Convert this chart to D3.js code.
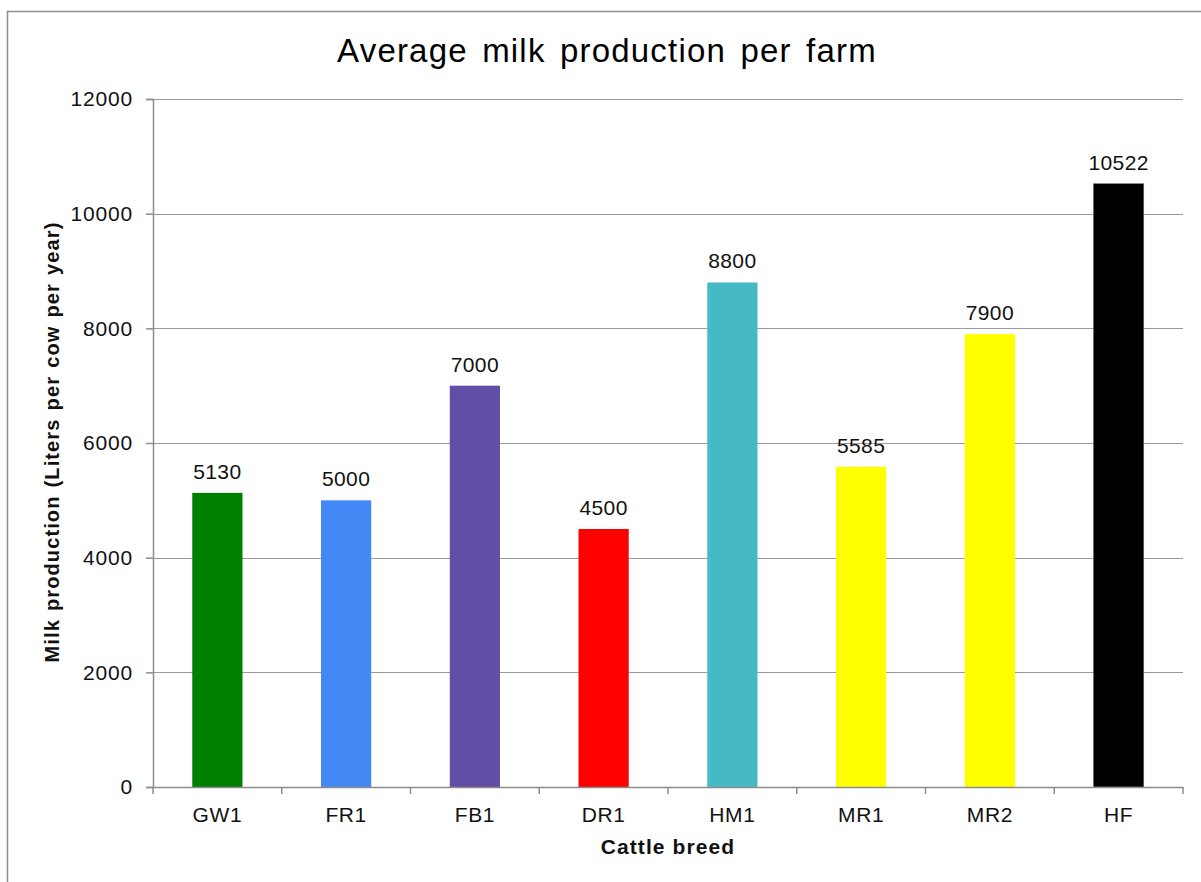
<!DOCTYPE html>
<html>
<head>
<meta charset="utf-8">
<script src="https://cdn.jsdelivr.net/npm/d3@7"></script>
<style>
  html, body { margin: 0; padding: 0; background: #fff; }
  svg { display: block; font-family: "Liberation Sans", Arial, sans-serif; }
</style>
</head>
<body>
<svg id="chart" width="1201" height="882"></svg>
<script>
// Cattle breeds and their average yearly milk production per cow
const breeds = ["GW1", "FR1", "FB1", "DR1", "HM1", "MR1", "MR2", "HF"];
const production = [5130, 5000, 7000, 4500, 8800, 5585, 7900, 10522];
const barColors = ["#008000", "#4488f5", "#624ea6", "#ff0000", "#45bac4", "#ffff00", "#ffff00", "#000000"];
const yTicks = [0, 2000, 4000, 6000, 8000, 10000, 12000];

const chartTitle = "Average milk production per farm";
const xTitle = "Cattle breed";
const yTitle = "Milk production (Liters per cow per year)";

const svg = d3.select("#chart");
const W = 1201, H = 882;
const plot = { left: 153, right: 1183, top: 99, bottom: 787 };
const FONT = "Liberation Sans, Arial, sans-serif";

// outer chart frame
svg.append("rect")
  .attr("x", 7.5).attr("y", 11.5)
  .attr("width", W + 10).attr("height", H + 10)
  .attr("fill", "#fff").attr("stroke", "#8c8c8c").attr("stroke-width", 1.5);

const x = d3.scaleBand()
  .domain(breeds)
  .range([plot.left, plot.right])
  .paddingInner(0.61)
  .paddingOuter(0.305);

const xOuter = d3.scaleBand().domain(breeds).range([plot.left, plot.right]);

const y = d3.scaleLinear().domain([0, 12000]).range([plot.bottom, plot.top]);

// horizontal gridlines
svg.append("g")
  .selectAll("line")
  .data(yTicks.filter(d => d > 0))
  .join("line")
  .attr("x1", plot.left).attr("x2", plot.right)
  .attr("y1", d => Math.round(y(d)) + 0.5).attr("y2", d => Math.round(y(d)) + 0.5)
  .attr("stroke", "#9a9a9a").attr("stroke-width", 1.2);

// bars
const data = breeds.map((b, i) => ({ breed: b, value: production[i], color: barColors[i] }));
svg.append("g")
  .selectAll("rect")
  .data(data)
  .join("rect")
  .attr("x", d => x(d.breed))
  .attr("width", x.bandwidth())
  .attr("y", d => y(d.value))
  .attr("height", d => y(0) - y(d.value))
  .attr("fill", d => d.color)
  .attr("stroke", d => d.breed === "HF" ? "#666" : "none")
  .attr("stroke-width", 0.6);

// value labels above bars
svg.append("g")
  .selectAll("text")
  .data(data)
  .join("text")
  .attr("x", d => x(d.breed) + x.bandwidth() / 2)
  .attr("y", d => y(d.value) - 14)
  .attr("text-anchor", "middle")
  .attr("font-size", 21)
  .attr("letter-spacing", 0.4)
  .attr("fill", "#111")
  .text(d => d.value);

// y axis
const yAxis = d3.axisLeft(y).tickValues(yTicks).tickSize(7).tickPadding(13).tickFormat(d3.format("d"));
const gy = svg.append("g").attr("transform", `translate(${plot.left},0)`).call(yAxis);
gy.select(".domain").attr("stroke", "#8c8c8c").attr("stroke-width", 1.5);
gy.selectAll(".tick line").attr("stroke", "#8c8c8c").attr("stroke-width", 1.5);
gy.selectAll(".tick text").attr("font-size", 21).attr("letter-spacing", 0.8)
  .attr("fill", "#111").attr("font-family", FONT);

// x axis with ticks at band boundaries
const xAxis = d3.axisBottom(xOuter).tickSize(0).tickPadding(20);
const gx = svg.append("g").attr("transform", `translate(0,${plot.bottom})`).call(xAxis);
gx.select(".domain").attr("stroke", "#8c8c8c").attr("stroke-width", 1.5);
gx.selectAll(".tick text").attr("font-size", 21).attr("letter-spacing", 0.6)
  .attr("fill", "#111").attr("font-family", FONT);
const boundaries = breeds.map(b => xOuter(b)).concat([plot.right]);
gx.append("g").selectAll("line")
  .data(boundaries)
  .join("line")
  .attr("x1", d => d).attr("x2", d => d)
  .attr("y1", 0).attr("y2", 7)
  .attr("stroke", "#8c8c8c").attr("stroke-width", 1.5);

// titles
svg.append("text")
  .attr("x", 607).attr("y", 62)
  .attr("text-anchor", "middle")
  .attr("font-size", 33)
  .attr("letter-spacing", 1.2)
  .attr("word-spacing", 4)
  .attr("fill", "#000")
  .text(chartTitle);

svg.append("text")
  .attr("x", (plot.left + plot.right) / 2).attr("y", 854)
  .attr("text-anchor", "middle")
  .attr("font-size", 21).attr("font-weight", "bold")
  .attr("letter-spacing", 1.1)
  .attr("fill", "#111")
  .text(xTitle);

svg.append("text")
  .attr("transform", `translate(59,${(plot.top + plot.bottom) / 2 - 1}) rotate(-90)`)
  .attr("text-anchor", "middle")
  .attr("font-size", 20).attr("font-weight", "bold")
  .attr("letter-spacing", 1.1)
  .attr("word-spacing", 1.5)
  .attr("fill", "#111")
  .text(yTitle);
</script>
</body>
</html>
